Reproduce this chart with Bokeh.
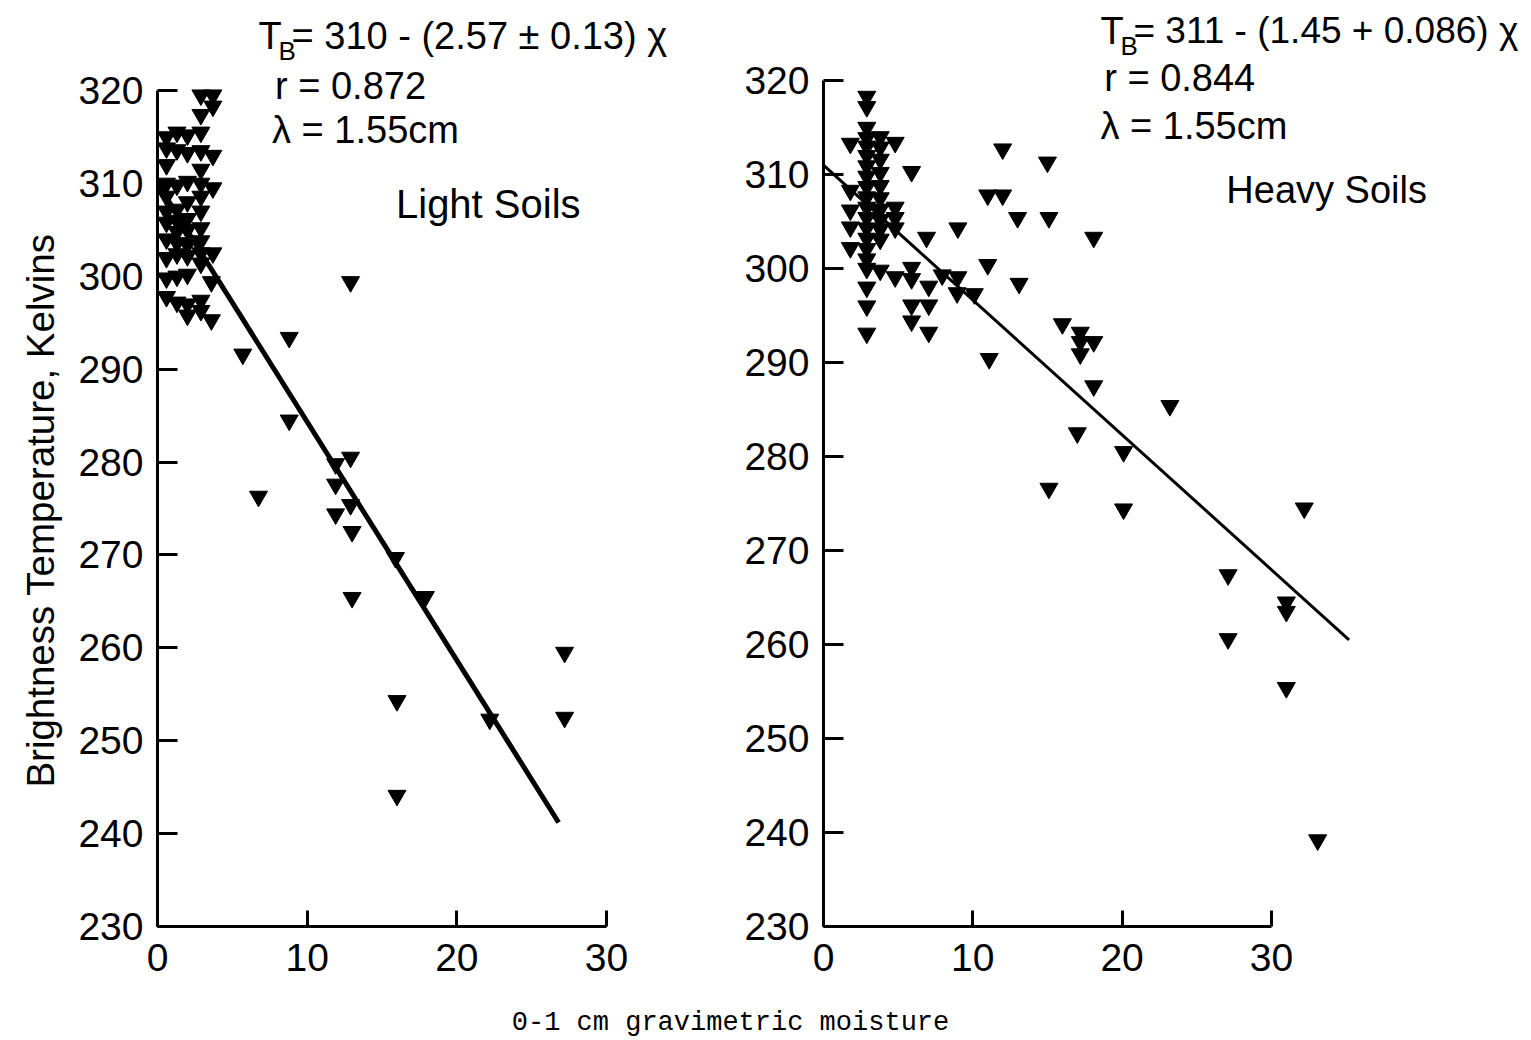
import math
from bokeh.plotting import figure
from bokeh.models import Range1d, Label, FixedTicker
from bokeh.layouts import column, row
from bokeh.embed import file_html
from bokeh.resources import INLINE

# ---------------- data ----------------
light_x = [0.6] * 11 + [1.3] * 10 + [2.0] * 11 + [2.9] * 14 + [3.7] * 5 + [
    3.6, 3.6, 8.8, 5.7, 8.8, 12.9, 12.9, 11.9, 11.9, 6.75, 12.9, 11.9, 13.0,
    15.9, 17.9, 13.0, 27.2, 16.0, 22.2, 27.2, 16.0]
light_y = [315.0, 313.8, 312.0, 310.0, 308.6, 307.0, 305.8, 304.0, 302.0, 299.8, 297.8,
           315.5, 313.6, 309.8, 307.2, 306.0, 304.8, 303.6, 302.4, 300.0, 297.2,
           315.2, 313.3, 310.2, 308.0, 306.2, 305.0, 303.4, 302.2, 300.2, 297.0, 295.8,
           319.5, 317.4, 315.5, 313.5, 311.5, 310.0, 308.6, 307.0, 305.2, 303.8, 302.5,
           301.4, 297.4, 296.3,
           319.5, 318.3, 313.0, 309.5, 302.5,
           299.4, 295.3, 293.4, 291.6, 284.5, 299.4, 280.5, 279.8, 277.6, 276.3, 275.4,
           274.4, 272.5, 269.7, 265.5, 265.4, 259.5, 254.3, 252.3, 252.5, 244.1]

heavy_x = [1.8] * 5 + [2.9] * 20 + [3.8] * 11 + [4.8] * 5 + [5.9] * 5 + [
    12.0, 15.0, 11.0, 12.0, 13.0, 15.1, 9.0, 6.9, 18.1, 11.0, 9.0, 7.95, 7.05, 8.95,
    10.1, 13.1, 7.05, 7.05, 11.1, 16.0, 17.2, 17.2, 18.1, 17.2, 18.1, 23.2, 17.0,
    20.1, 15.1, 20.1, 32.2, 27.1, 31.0, 31.0, 27.1, 31.0, 33.1]
heavy_y = [313.3, 308.3, 306.2, 304.4, 302.2,
           318.3, 317.2, 315.0, 313.9, 313.0, 312.0, 310.9, 309.8, 308.7, 307.6, 306.5,
           305.4, 304.3, 303.2, 302.1, 301.0, 300.0, 298.0, 296.0, 293.1,
           314.0, 312.9, 311.6, 310.2, 308.8, 307.5, 306.3, 305.2, 304.2, 303.1, 299.8,
           313.4, 306.5, 305.4, 304.3, 299.1,
           310.3, 300.1, 298.9, 296.1, 294.4,
           312.7, 311.3, 307.8, 307.8, 305.4, 305.4, 304.3, 303.3, 303.3, 300.4, 299.1,
           299.3, 298.1, 297.4, 297.3, 298.4, 296.1, 293.2, 290.4, 294.1, 293.2, 292.2,
           292.2, 290.9, 287.5, 285.4, 282.5, 280.5, 276.6, 274.4, 274.5, 267.4, 264.5,
           263.5, 260.6, 255.4, 239.2]

light_fit_x = [0.0, 26.8]
light_fit_y = [310.0, 241.2]
heavy_fit_x = [0.0, 35.2]
heavy_fit_y = [311.0, 260.5]

x_ticks = [0, 10, 20, 30]
y_ticks = [230, 240, 250, 260, 270, 280, 290, 300, 310, 320]

y_title = "Brightness Temperature, Kelvins"
x_title = "0-1 cm gravimetric moisture"
light_eq = "= 310 - (2.57 \u00b1 0.13) \u03c7"
light_r = "r = 0.872"
heavy_eq = "= 311 - (1.45 + 0.086) \u03c7"
heavy_r = "r = 0.844"
lam = "\u03bb = 1.55cm"

TXT = "Liberation Sans"
MONO = "Liberation Mono"

H = 995          # height of the two panels
BOTTOM = 69      # common bottom border (frames are aligned in a row)
FRAME_H = H - BOTTOM


def panel(width, left, xpx, ypx, xs, ys, fx, fy, fit_w):
    frame_w = width - left
    p = figure(width=width, height=H, output_backend="svg", toolbar_location=None,
               x_range=Range1d(0, frame_w / xpx),
               y_range=Range1d(230, 230 + FRAME_H / ypx),
               min_border_left=left, min_border_right=0, min_border_top=0,
               min_border_bottom=BOTTOM)
    p.outline_line_color = None
    p.grid.visible = False
    p.background_fill_color = "white"
    p.border_fill_color = "white"
    for ax, ticks, bnd in ((p.xaxis, x_ticks, (0, 30)), (p.yaxis, y_ticks, (230, 320))):
        ax.ticker = FixedTicker(ticks=ticks)
        ax.bounds = bnd
        ax.axis_line_width = 3
        ax.axis_line_color = "black"
        ax.major_tick_line_width = 3
        ax.major_tick_line_color = "black"
        ax.major_tick_out = 0
        ax.minor_tick_line_color = None
        ax.major_label_text_font = TXT
        ax.major_label_text_font_size = "39px"
        ax.major_label_text_color = "black"
    p.xaxis.major_tick_in = 16
    p.yaxis.major_tick_in = 20
    p.xaxis.major_label_standoff = 17
    p.yaxis.major_label_standoff = 14
    p.line(fx, fy, line_width=fit_w, line_color="black")
    p.scatter(xs, ys, marker="inverted_triangle", size=18, fill_color="black",
              line_color="black")
    return p


def add_text(p, x, y, text, size="38px", font=TXT, xoff=0, align="left"):
    p.add_layout(Label(x=x, y=y, text=text, x_offset=xoff, text_font=font,
                       text_font_size=size, text_color="black", text_align=align,
                       text_baseline="middle"))


# y-axis title strip (left)
LW = 70
pl = figure(width=LW, height=H, output_backend="svg", toolbar_location=None,
            x_range=Range1d(0, LW), y_range=Range1d(0, FRAME_H),
            x_axis_location=None, y_axis_location=None, min_border=0,
            min_border_bottom=BOTTOM)
pl.grid.visible = False
pl.outline_line_color = None
pl.add_layout(Label(x=40, y=FRAME_H - 510, text=y_title, angle=math.pi / 2,
                    text_font=TXT, text_font_size="38.5px", text_color="black",
                    text_align="center", text_baseline="middle"))

# left panel: frame x 157..700, 320 K at y=90, 230 K at y=926
p1 = panel(700 - LW, 157 - LW, 14.967, (FRAME_H - 90) / 90, light_x, light_y,
           light_fit_x, light_fit_y, 5)
add_text(p1, 6.75, 325.9, "T")
add_text(p1, 6.75, 324.3, "B", size="26px", xoff=20)
add_text(p1, 6.75, 325.9, light_eq, xoff=33)
add_text(p1, 7.85, 320.5, light_r)
add_text(p1, 7.65, 315.7, lam)
add_text(p1, 22.1, 307.8, "Light Soils", size="40px", align="center")

# right panel: frame x 823..1531, 320 K at y=80, 230 K at y=926
p2 = panel(831, 123, 14.93, (FRAME_H - 80) / 90, heavy_x, heavy_y,
           heavy_fit_x, heavy_fit_y, 3)
add_text(p2, 18.55, 325.3, "T")
add_text(p2, 18.55, 323.7, "B", size="26px", xoff=20)
add_text(p2, 18.55, 325.3, heavy_eq, size="37px", xoff=33)
add_text(p2, 18.8, 320.3, heavy_r)
add_text(p2, 18.55, 315.2, lam)
add_text(p2, 33.7, 308.3, "Heavy Soils", size="38px", align="center")

# shared x-axis title strip (bottom)
p3 = figure(width=1531, height=1040 - H, output_backend="svg", toolbar_location=None,
            x_range=Range1d(0, 1531), y_range=Range1d(0, 1040 - H),
            x_axis_location=None, y_axis_location=None, min_border=0)
p3.grid.visible = False
p3.outline_line_color = None
p3.add_layout(Label(x=730, y=18, text=x_title, text_font=MONO, text_font_size="27px",
                    text_color="black", text_align="center", text_baseline="middle"))

layout = column(row(pl, p1, p2), p3)
open("out.html", "w").write(file_html(layout, INLINE))
